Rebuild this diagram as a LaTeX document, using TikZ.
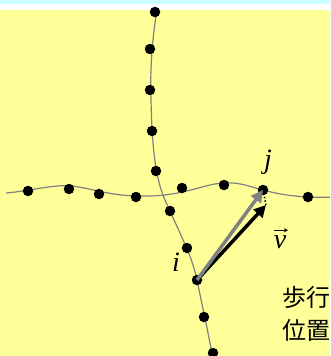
\documentclass[tikz,border=0pt]{standalone}
\usepackage{fontspec}
\newfontfamily\cjk{Noto Sans CJK JP}
\newfontfamily\tnr{Liberation Serif}
\usetikzlibrary{arrows.meta}
\definecolor{bgyellow}{HTML}{FFFF99}
\definecolor{bgcyan}{HTML}{CCFFFF}
\definecolor{pathgray}{HTML}{808080}
\tikzset{
  dot/.style={circle,fill=black,inner sep=0pt,minimum size=10.5pt},
  walk/.style={draw=pathgray,line width=1.2pt},
  lbl/.style={inner sep=0pt,font=\fontsize{28}{28}\selectfont\tnr\itshape},
}
\begin{document}
\begin{tikzpicture}[x=1pt,y=-1pt]
\useasboundingbox (0,0) rectangle (330,356);
\clip (0,0) rectangle (330,356);
\fill[bgcyan] (0,0) rectangle (330,4);
\fill[white] (0,4) rectangle (330,10);
\fill[bgyellow] (0,10) rectangle (330,356);
% walking paths
\draw[walk] (157,10) .. controls (152,40) and (150,70) .. (151,100)
  .. controls (152,140) and (154,175) .. (165,200)
  .. controls (178,230) and (192,255) .. (197,280)
  .. controls (202,305) and (208,330) .. (213,360);
\draw[walk] (6,193) .. controls (30,191) and (55,184) .. (72,186)
  .. controls (90,188) and (110,196) .. (140,196)
  .. controls (170,197) and (190,190) .. (210,185)
  .. controls (235,179) and (250,187) .. (263,190)
  .. controls (285,196) and (305,198) .. (335,197);
% dots on vertical path
\node[dot] (v1) at (155,12) {};
\node[dot] (v2) at (150,49) {};
\node[dot] (v3) at (150,90) {};
\node[dot] (v4) at (152,131) {};
\node[dot] (v5) at (156,171) {};
\node[dot] (v6) at (170,211) {};
\node[dot] (v7) at (187,248) {};
\node[dot] (i) at (197,280) {};
\node[dot] (v9) at (204,317) {};
\node[dot] (v10) at (213,353) {};
% dots on horizontal path
\node[dot] (h1) at (28,191) {};
\node[dot] (h2) at (69,189) {};
\node[dot] (h3) at (99,194) {};
\node[dot] (h4) at (136,197) {};
\node[dot] (h5) at (182,188) {};
\node[dot] (h6) at (224,185) {};
\node[dot] (j) at (263,190) {};
\node[dot] (h8) at (308,197) {};
% arrows
\coordinate (vt) at (266,205);
\draw[dotted,line width=1.5pt] (j.center) -- (vt);
\draw[line width=3.5pt,-{Triangle[length=12pt,width=12pt]}] (i.center) -- (vt);
\draw[pathgray,line width=3.5pt,-{Triangle[length=12pt,width=12pt]}] (i.center) -- (j.center);
% labels
\node[lbl] (lj) at (268,162) {j};
\node[lbl] (li) at (176,262) {i};
\node[lbl] (lv) at (280,242) {v};
\draw[line width=0.8pt,-{Stealth[length=4pt,width=4pt]}]
  ([xshift=-6pt,yshift=5pt]lv.north) -- ([xshift=8pt,yshift=5pt]lv.north);
\node[anchor=west,inner sep=0pt,font=\fontsize{24}{24}\selectfont\cjk] (t1) at (282,297) {歩行};
\node[anchor=west,inner sep=0pt,font=\fontsize{24}{24}\selectfont\cjk] (t2) at (282,330) {位置};
\end{tikzpicture}
\end{document}
